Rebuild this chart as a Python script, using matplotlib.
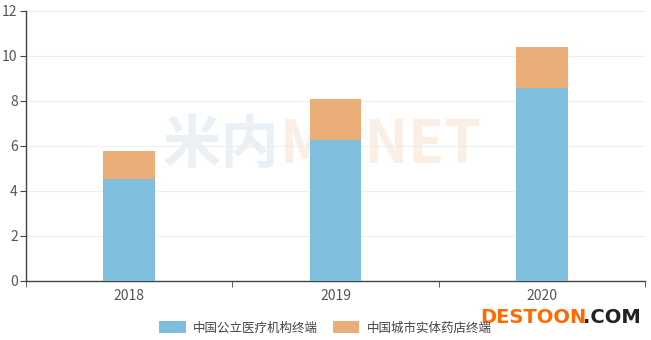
import matplotlib
matplotlib.use("Agg")
import matplotlib.pyplot as plt
from matplotlib.patches import Patch
import numpy as np

plt.rcParams['font.family'] = ['Noto Sans CJK SC', 'DejaVu Sans']

years = ["2018", "2019", "2020"]
public_medical = [4.52, 6.27, 8.59]
city_pharmacy = [1.23, 1.80, 1.80]
series_names = ["中国公立医疗机构终端", "中国城市实体药店终端"]
yticks = [0, 2, 4, 6, 8, 10, 12]

c_blue = "#7fbedc"
c_orange = "#ebae78"

fig = plt.figure(figsize=(6.51, 3.40), dpi=100)
ax = fig.add_axes([0.04, 0.174, 0.951, 0.794])

x = np.arange(len(years))
w = 0.25
ax.bar(x, public_medical, width=w, color=c_blue, zorder=3)
ax.bar(x, city_pharmacy, width=w, bottom=public_medical, color=c_orange, zorder=3)

ax.set_xlim(-0.5, len(years) - 0.5)
ax.set_ylim(0, 12)
ax.set_yticks(yticks)
ax.set_yticklabels([str(v) for v in yticks], fontsize=10, color="#555555")
ax.set_xticks(x)
ax.set_xticklabels(years, fontsize=10, color="#555555")
ax.tick_params(axis='x', length=0, pad=6)
ax.set_xticks(np.arange(-0.5, len(years)), minor=True)
ax.tick_params(axis='x', which='minor', length=4, color="#444444")
ax.tick_params(axis='y', length=4, color="#444444", pad=2)

ax.grid(axis='y', color="#eeeeee", linewidth=0.8, zorder=0)
for s in ["top", "right"]:
    ax.spines[s].set_visible(False)
for s in ["left", "bottom"]:
    ax.spines[s].set_color("#444444")
    ax.spines[s].set_linewidth(1.0)

# faint watermark
ax.text(0.41, 0.5, "米内", transform=ax.transAxes, fontsize=42, fontweight='bold',
        color="#dbe6f0", alpha=0.6, ha='right', va='center', zorder=1)
ax.text(0.41, 0.5, "MENET", transform=ax.transAxes, fontsize=42, fontweight='bold',
        color="#f8e4d4", alpha=0.6, ha='left', va='center', zorder=1)

handles = [Patch(facecolor=c_blue, edgecolor='none'), Patch(facecolor=c_orange, edgecolor='none')]
fig.legend(handles, series_names, loc='center', bbox_to_anchor=(0.5, 0.035), ncol=2,
           frameon=False, fontsize=9, handlelength=2.1, handleheight=1.1,
           columnspacing=1.2, handletextpad=0.6, labelcolor="#444444")

fig.text(0.737, 0.065, "DESTOON", fontsize=14, fontweight='bold', color="#ff6a00",
         ha='left', va='center', family='DejaVu Sans')
fig.text(0.895, 0.065, ".COM", fontsize=14, fontweight='bold', color="#222222",
         ha='left', va='center', family='DejaVu Sans')

fig.savefig("out.png", dpi=100)
